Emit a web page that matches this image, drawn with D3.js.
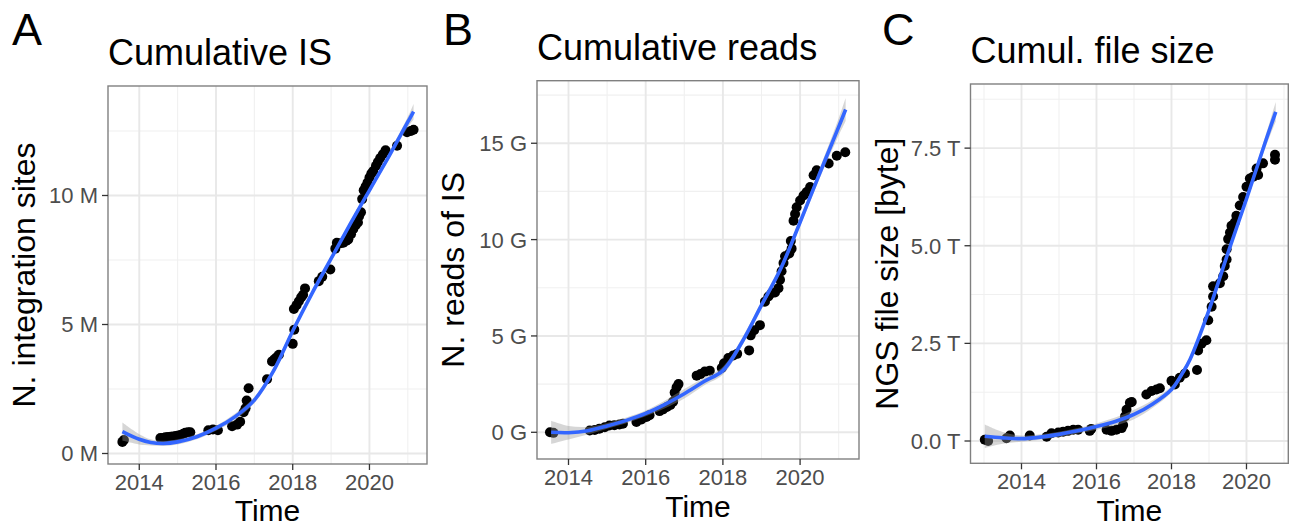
<!DOCTYPE html>
<html><head><meta charset="utf-8">
<script src="https://cdn.jsdelivr.net/npm/d3@7"></script>
<style>body{margin:0;background:#fff} svg{display:block}</style>
</head><body><svg id="c" width="1290" height="528"></svg>
<script>
// ---------------- DATA ----------------
const xTicks = [2014, 2016, 2018, 2020];
const xMinor = [2013, 2015, 2017, 2019, 2021];

// Panel A: cumulative integration sites (millions)
const ptsA = [[2013.56,0.45],[2013.6,0.52],[2014.55,0.6],[2014.62,0.6],[2014.68,0.63],[2014.75,0.64],[2014.82,0.65],[2014.88,0.66],[2014.95,0.68],[2015.02,0.7],[2015.08,0.72],[2015.15,0.77],[2015.2,0.8],[2015.27,0.82],[2015.33,0.82],[2015.8,0.9],[2015.92,0.93],[2016.05,0.9],[2016.42,1.06],[2016.55,1.12],[2016.63,1.23],[2016.72,1.6],[2016.77,1.75],[2016.8,2.05],[2016.85,2.53],[2017.33,2.88],[2017.46,3.57],[2017.52,3.65],[2017.58,3.73],[2017.64,3.83],[2018.0,4.25],[2018.04,4.8],[2018.03,5.6],[2018.1,5.75],[2018.16,5.9],[2018.22,6.05],[2018.27,6.15],[2018.32,6.4],[2018.68,6.68],[2018.77,6.85],[2018.98,7.13],[2019.11,7.94],[2019.15,8.17],[2019.25,8.15],[2019.32,8.17],[2019.4,8.25],[2019.45,8.3],[2019.52,8.5],[2019.58,8.7],[2019.64,8.85],[2019.7,8.95],[2019.73,9.2],[2019.78,9.35],[2019.81,9.86],[2019.85,10.2],[2019.9,10.35],[2019.95,10.5],[2020.0,10.7],[2020.05,10.85],[2020.1,10.95],[2020.17,11.15],[2020.22,11.3],[2020.28,11.45],[2020.35,11.6],[2020.42,11.75],[2020.72,11.93],[2020.98,12.45],[2021.08,12.5],[2021.15,12.55]];
const fitYearsA = [2013.56,2014.0,2014.3,2014.63,2015.0,2015.5,2016.0,2016.5,2017.0,2017.5,2018.0,2018.5,2019.0,2019.5,2020.0,2020.5,2021.0,2021.15];
const fitA =      [0.85,0.55,0.43,0.39,0.45,0.65,0.98,1.43,2.07,3.2,4.75,6.2,7.55,8.9,10.2,11.5,12.85,13.25];
const seA =       [0.35,0.2,0.12,0.1,0.1,0.1,0.1,0.12,0.12,0.12,0.12,0.1,0.1,0.1,0.1,0.12,0.2,0.3];
const yTicksA = [0, 5, 10];
const yLabelsA = ["0 M", "5 M", "10 M"];
const yMinorA = [2.5, 7.5, 12.5];

// Panel B: cumulative reads (billions)
const ptsB = [[2013.52,0.0],[2013.61,-0.03],[2014.55,0.09],[2014.68,0.12],[2014.8,0.19],[2014.94,0.26],[2015.06,0.35],[2015.19,0.37],[2015.32,0.4],[2015.41,0.44],[2015.76,0.54],[2015.89,0.66],[2016.02,0.79],[2016.1,0.89],[2016.36,1.1],[2016.45,1.19],[2016.55,1.31],[2016.64,1.42],[2016.71,1.59],[2016.75,2.06],[2016.8,2.33],[2016.85,2.5],[2017.32,2.94],[2017.42,3.02],[2017.53,3.15],[2017.66,3.2],[2017.97,3.34],[2018.03,3.58],[2018.14,3.86],[2018.27,3.99],[2018.37,4.07],[2018.68,4.25],[2018.72,5.03],[2018.81,5.3],[2018.96,5.56],[2019.09,6.78],[2019.18,7.05],[2019.26,7.22],[2019.35,7.26],[2019.44,7.48],[2019.48,7.92],[2019.52,8.36],[2019.57,8.79],[2019.61,9.14],[2019.72,9.28],[2019.78,9.53],[2019.76,9.93],[2019.83,10.98],[2019.87,11.33],[2019.91,11.68],[2020.0,12.03],[2020.09,12.29],[2020.17,12.47],[2020.26,12.73],[2020.35,13.34],[2020.43,13.6],[2020.74,13.95],[2020.95,14.35],[2021.17,14.53]];
const fitYearsB = [2013.55,2014.0,2014.5,2015.0,2015.5,2016.0,2016.5,2017.0,2017.5,2018.0,2018.5,2019.0,2019.5,2020.0,2020.5,2021.0,2021.18];
const fitB =      [0.0,-0.02,0.08,0.33,0.62,0.98,1.45,2.0,2.62,3.2,4.7,6.6,8.5,10.9,13.4,15.85,16.75];
const seB =       [0.6,0.35,0.2,0.15,0.15,0.15,0.2,0.25,0.2,0.2,0.2,0.2,0.2,0.2,0.25,0.45,0.6];
const yTicksB = [0, 5, 10, 15];
const yLabelsB = ["0 G", "5 G", "10 G", "15 G"];
const yMinorB = [2.5, 7.5, 12.5, 17.5];

// Panel C: cumulative NGS file size (terabytes)
const ptsC = [[2013.02,0.03],[2013.11,0.0],[2013.6,0.07],[2013.69,0.14],[2014.22,0.14],[2014.67,0.11],[2014.8,0.2],[2014.98,0.22],[2015.11,0.24],[2015.24,0.26],[2015.38,0.29],[2015.51,0.29],[2015.82,0.26],[2015.86,0.31],[2016.27,0.29],[2016.4,0.26],[2016.53,0.29],[2016.67,0.33],[2016.71,0.41],[2016.76,0.63],[2016.8,0.8],[2016.89,0.98],[2016.94,1.0],[2017.33,1.19],[2017.47,1.28],[2017.6,1.32],[2017.69,1.35],[2018.0,1.54],[2018.09,1.45],[2018.22,1.62],[2018.36,1.73],[2018.68,1.82],[2018.71,2.32],[2018.8,2.49],[2018.93,2.58],[2018.98,3.09],[2019.07,3.44],[2019.11,3.7],[2019.11,3.96],[2019.29,4.04],[2019.38,4.22],[2019.42,4.48],[2019.47,4.65],[2019.47,4.91],[2019.51,5.17],[2019.56,5.34],[2019.6,5.51],[2019.69,5.6],[2019.73,5.77],[2019.82,6.03],[2019.91,6.25],[2020.0,6.51],[2020.09,6.72],[2020.18,6.77],[2020.31,6.81],[2020.27,6.98],[2020.44,7.11],[2020.76,7.33],[2020.76,7.2]];
const fitYearsC = [2013.02,2013.5,2014.0,2014.5,2015.0,2015.5,2016.0,2016.5,2017.0,2017.5,2018.0,2018.3,2018.5,2019.0,2019.5,2020.0,2020.5,2020.78];
const fitC =      [0.12,0.08,0.06,0.1,0.17,0.26,0.37,0.5,0.68,0.95,1.32,1.75,2.1,3.35,4.8,6.2,7.65,8.43];
const seC =       [0.3,0.15,0.08,0.07,0.07,0.07,0.08,0.1,0.12,0.1,0.08,0.08,0.08,0.08,0.08,0.1,0.15,0.25];
const yTicksC = [0, 2.5, 5, 7.5];
const yLabelsC = ["0.0 T", "2.5 T", "5.0 T", "7.5 T"];
const yMinorC = [1.25, 3.75, 6.25, 8.75];

// ---------------- LAYOUT ----------------
const FONT = "'Liberation Sans', Arial, Helvetica, sans-serif";
const panels = [
  {letter:"A", letterX:12, title:"Cumulative IS", ylab:"N. integration sites",
   pts:ptsA, fx:fitYearsA, fy:fitA, se:seA, yt:yTicksA, yl:yLabelsA, ym:yMinorA,
   box:{l:108, t:86, r:427, b:464}, xd:[2013.185, 2021.5], yd:[-0.407, 14.244]},
  {letter:"B", letterX:443, title:"Cumulative reads", ylab:"N. reads of IS",
   pts:ptsB, fx:fitYearsB, fy:fitB, se:seB, yt:yTicksB, yl:yLabelsB, ym:yMinorB,
   box:{l:537, t:80.7, r:859, b:459}, xd:[2013.184, 2021.526], yd:[-1.386, 18.246]},
  {letter:"C", letterX:882, title:"Cumul. file size", ylab:"NGS file size [byte]",
   pts:ptsC, fx:fitYearsC, fy:fitC, se:seC, yt:yTicksC, yl:yLabelsC, ym:yMinorC,
   box:{l:970.5, t:84, r:1288.3, b:463.3}, xd:[2012.64, 2021.115], yd:[-0.571, 9.142]}
];

const svg = d3.select("#c");
svg.append("rect").attr("width",1290).attr("height",528).attr("fill","#fff");

panels.forEach((p, i) => {
  const b = p.box;
  const x = d3.scaleLinear().domain(p.xd).range([b.l, b.r]);
  const y = d3.scaleLinear().domain(p.yd).range([b.b, b.t]);
  const g = svg.append("g");
  const clipId = "clip" + i;
  g.append("clipPath").attr("id", clipId).append("rect")
    .attr("x", b.l).attr("y", b.t).attr("width", b.r - b.l).attr("height", b.b - b.t);

  // minor grid
  const xm = xMinor.filter(v => v > p.xd[0] && v < p.xd[1]);
  g.selectAll(".vmin").data(xm).join("line")
    .attr("x1", d => x(d)).attr("x2", d => x(d)).attr("y1", b.t).attr("y2", b.b)
    .attr("stroke", "#f0f0f0").attr("stroke-width", 1.1);
  g.selectAll(".hmin").data(p.ym.filter(v => v > p.yd[0] && v < p.yd[1])).join("line")
    .attr("x1", b.l).attr("x2", b.r).attr("y1", d => y(d)).attr("y2", d => y(d))
    .attr("stroke", "#f0f0f0").attr("stroke-width", 1.1);
  // major grid
  g.selectAll(".vmaj").data(xTicks).join("line")
    .attr("x1", d => x(d)).attr("x2", d => x(d)).attr("y1", b.t).attr("y2", b.b)
    .attr("stroke", "#e8e8e8").attr("stroke-width", 1.9);
  g.selectAll(".hmaj").data(p.yt).join("line")
    .attr("x1", b.l).attr("x2", b.r).attr("y1", d => y(d)).attr("y2", d => y(d))
    .attr("stroke", "#e8e8e8").attr("stroke-width", 1.9);

  const plot = g.append("g").attr("clip-path", `url(#${clipId})`);
  // points
  plot.selectAll("circle").data(p.pts).join("circle")
    .attr("cx", d => x(d[0])).attr("cy", d => y(d[1])).attr("r", 5).attr("fill", "#000");
  // ribbon
  const fitData = p.fx.map((v, k) => ({x: v, y: p.fy[k], s: p.se[k]}));
  const area = d3.area().x(d => x(d.x)).y0(d => y(d.y - d.s)).y1(d => y(d.y + d.s))
    .curve(d3.curveCatmullRom.alpha(0.5));
  plot.append("path").datum(fitData).attr("d", area).attr("fill", "#999").attr("opacity", 0.4);
  const line = d3.line().x(d => x(d.x)).y(d => y(d.y)).curve(d3.curveCatmullRom.alpha(0.5));
  plot.append("path").datum(fitData).attr("d", line).attr("fill", "none")
    .attr("stroke", "#3366FF").attr("stroke-width", 3.6).attr("stroke-linecap", "butt");

  // border
  g.append("rect").attr("x", b.l).attr("y", b.t).attr("width", b.r - b.l).attr("height", b.b - b.t)
    .attr("fill", "none").attr("stroke", "#808080").attr("stroke-width", 1.4);

  // axes ticks
  g.selectAll(".xt").data(xTicks).join("line")
    .attr("x1", d => x(d)).attr("x2", d => x(d)).attr("y1", b.b).attr("y2", b.b + 6)
    .attr("stroke", "#333").attr("stroke-width", 1.3);
  g.selectAll(".yt").data(p.yt).join("line")
    .attr("x1", b.l - 6).attr("x2", b.l).attr("y1", d => y(d)).attr("y2", d => y(d))
    .attr("stroke", "#333").attr("stroke-width", 1.3);
  g.selectAll(".xl").data(xTicks).join("text")
    .attr("x", d => x(d)).attr("y", b.b + 26).attr("text-anchor", "middle")
    .attr("font-family", FONT).attr("font-size", 22).attr("fill", "#4d4d4d").text(d => d3.format("d")(d));
  g.selectAll(".yl").data(p.yt).join("text")
    .attr("x", b.l - 10).attr("y", d => y(d)).attr("dy", "0.36em").attr("text-anchor", "end")
    .attr("font-family", FONT).attr("font-size", 22).attr("fill", "#4d4d4d").text((d, k) => p.yl[k]);

  // titles
  g.append("text").attr("x", b.l).attr("y", b.t - 21).attr("font-family", FONT)
    .attr("font-size", 36).attr("fill", "#000").text(p.title);
  g.append("text").attr("x", p.letterX).attr("y", 45).attr("font-family", FONT)
    .attr("font-size", 45).attr("fill", "#000").text(p.letter);
  g.append("text").attr("x", (b.l + b.r) / 2).attr("y", Math.min(b.b + 58, 521)).attr("text-anchor", "middle")
    .attr("font-family", FONT).attr("font-size", 30).attr("fill", "#000").text("Time");
  g.append("text").attr("transform", `translate(${b.l - 73},${(b.t + b.b) / 2}) rotate(-90)`)
    .attr("text-anchor", "middle").attr("font-family", FONT).attr("font-size", 32)
    .attr("fill", "#000").text(p.ylab);
});
</script></body></html>
